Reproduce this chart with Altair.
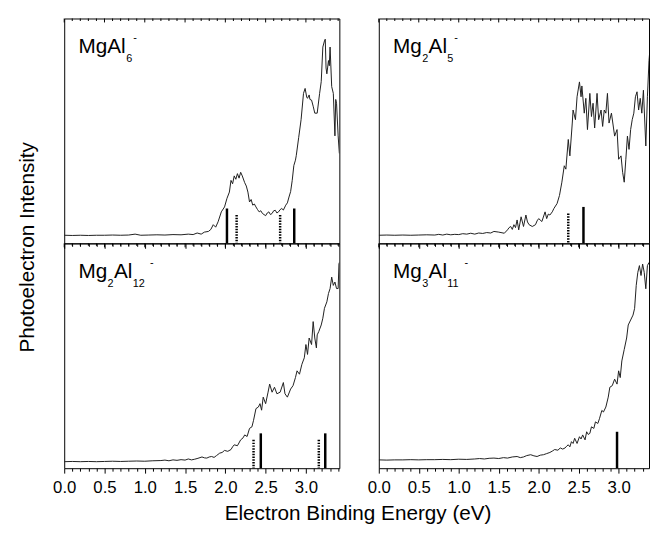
import altair as alt
import pandas as pd

FONT = "Liberation Sans"

# ---------------- data ----------------
# MgAl6-
TL_E = [0.00, 0.10, 0.20, 0.30, 0.40, 0.50, 0.60, 0.70, 0.80, 0.88, 0.95, 1.05, 1.15, 1.25, 1.35, 1.45,
        1.54, 1.60, 1.65, 1.70, 1.74, 1.79, 1.82, 1.85, 1.88, 1.91, 1.95, 1.99, 2.02, 2.05, 2.07, 2.09,
        2.11, 2.13, 2.15, 2.17, 2.19, 2.21, 2.24, 2.26, 2.28, 2.30, 2.32, 2.34, 2.36, 2.38, 2.40, 2.42,
        2.44, 2.46, 2.48, 2.50, 2.52, 2.54, 2.56, 2.58, 2.60, 2.62, 2.64, 2.66, 2.68, 2.70, 2.72, 2.75,
        2.77, 2.79, 2.81, 2.83, 2.85, 2.87, 2.88, 2.91, 2.94, 2.97, 2.99, 3.01, 3.02, 3.04, 3.05, 3.07,
        3.09, 3.11, 3.14, 3.17, 3.19, 3.21, 3.23, 3.24, 3.25, 3.26, 3.28, 3.29, 3.30, 3.32, 3.34, 3.36,
        3.37, 3.38, 3.40, 3.415]
TL_V = [0.036, 0.035, 0.036, 0.035, 0.036, 0.036, 0.037, 0.036, 0.037, 0.041, 0.036, 0.037, 0.038, 0.037, 0.039, 0.038,
        0.041, 0.039, 0.046, 0.041, 0.050, 0.053, 0.062, 0.083, 0.072, 0.096, 0.140, 0.162, 0.200, 0.228, 0.280, 0.265,
        0.300, 0.285, 0.310, 0.290, 0.316, 0.300, 0.270, 0.255, 0.228, 0.184, 0.195, 0.170, 0.175, 0.162, 0.150, 0.140,
        0.145, 0.133, 0.128, 0.123, 0.135, 0.140, 0.128, 0.133, 0.145, 0.147, 0.135, 0.140, 0.150, 0.155, 0.148, 0.170,
        0.180, 0.206, 0.230, 0.280, 0.346, 0.370, 0.390, 0.470, 0.550, 0.667, 0.689, 0.650, 0.645, 0.660, 0.640, 0.637,
        0.610, 0.579, 0.579, 0.667, 0.719, 0.873, 0.900, 0.908, 0.780, 0.754, 0.813, 0.790, 0.873, 0.697, 0.667, 0.478,
        0.640, 0.623, 0.478, 0.400]

# Mg2Al5-
TR_E = [0.00, 0.10, 0.20, 0.30, 0.40, 0.50, 0.60, 0.70, 0.75, 0.80, 0.85, 0.90, 0.95, 1.00, 1.05, 1.10,
        1.15, 1.20, 1.25, 1.30, 1.35, 1.40, 1.44, 1.50, 1.57, 1.61, 1.63, 1.65, 1.67, 1.69, 1.71, 1.73,
        1.75, 1.78, 1.81, 1.84, 1.86, 1.88, 1.92, 1.96, 1.98, 2.00, 2.04, 2.08, 2.10, 2.12, 2.14, 2.17,
        2.19, 2.23, 2.26, 2.29, 2.32, 2.34, 2.37, 2.39, 2.42, 2.43, 2.46, 2.48, 2.51, 2.53, 2.54, 2.57,
        2.59, 2.61, 2.64, 2.66, 2.68, 2.70, 2.73, 2.75, 2.78, 2.80, 2.82, 2.84, 2.86, 2.88, 2.91, 2.95,
        2.98, 3.00, 3.03, 3.05, 3.07, 3.09, 3.11, 3.13, 3.15, 3.17, 3.19, 3.21, 3.23, 3.25, 3.27, 3.29,
        3.31, 3.34, 3.36, 3.38, 3.40]
TR_V = [0.036, 0.037, 0.036, 0.037, 0.036, 0.037, 0.038, 0.037, 0.040, 0.037, 0.041, 0.038, 0.040, 0.039, 0.043, 0.041,
        0.045, 0.041, 0.046, 0.044, 0.048, 0.046, 0.053, 0.050, 0.045, 0.060, 0.070, 0.075, 0.062, 0.083, 0.070, 0.104,
        0.060, 0.118, 0.075, 0.126, 0.095, 0.083, 0.075, 0.083, 0.100, 0.110, 0.097, 0.140, 0.110, 0.130, 0.126, 0.140,
        0.155, 0.177, 0.213, 0.272, 0.345, 0.330, 0.462, 0.389, 0.535, 0.593, 0.550, 0.652, 0.718, 0.652, 0.700, 0.579,
        0.645, 0.506, 0.667, 0.564, 0.623, 0.513, 0.667, 0.550, 0.593, 0.520, 0.593, 0.579, 0.667, 0.535, 0.579, 0.477,
        0.506, 0.374, 0.389, 0.316, 0.272, 0.374, 0.477, 0.418, 0.506, 0.550, 0.579, 0.652, 0.674, 0.593, 0.645, 0.579,
        0.681, 0.433, 0.652, 0.813, 0.900]

# Mg2Al12-
BL_E = [0.00, 0.10, 0.20, 0.30, 0.40, 0.50, 0.60, 0.70, 0.80, 0.90, 1.00, 1.10, 1.20, 1.25, 1.30, 1.35,
        1.40, 1.45, 1.50, 1.54, 1.58, 1.62, 1.66, 1.71, 1.74, 1.77, 1.80, 1.83, 1.86, 1.89, 1.93, 1.96,
        1.99, 2.03, 2.07, 2.09, 2.11, 2.15, 2.19, 2.22, 2.24, 2.27, 2.30, 2.33, 2.35, 2.38, 2.41, 2.43,
        2.45, 2.47, 2.50, 2.53, 2.55, 2.58, 2.61, 2.64, 2.68, 2.72, 2.74, 2.77, 2.81, 2.84, 2.87, 2.89,
        2.92, 2.95, 2.98, 3.00, 3.02, 3.04, 3.07, 3.09, 3.11, 3.13, 3.14, 3.16, 3.19, 3.21, 3.23, 3.26,
        3.28, 3.30, 3.32, 3.34, 3.36, 3.38, 3.40, 3.41, 3.415]
BL_V = [0.029, 0.030, 0.029, 0.030, 0.029, 0.030, 0.031, 0.030, 0.031, 0.032, 0.031, 0.033, 0.034, 0.036, 0.033, 0.037,
        0.035, 0.038, 0.036, 0.041, 0.037, 0.040, 0.044, 0.050, 0.046, 0.045, 0.050, 0.052, 0.048, 0.056, 0.067, 0.070,
        0.079, 0.075, 0.083, 0.095, 0.104, 0.100, 0.126, 0.135, 0.148, 0.141, 0.177, 0.184, 0.213, 0.265, 0.272, 0.287,
        0.258, 0.316, 0.287, 0.338, 0.374, 0.338, 0.360, 0.331, 0.338, 0.381, 0.331, 0.316, 0.352, 0.367, 0.403, 0.433,
        0.418, 0.462, 0.491, 0.550, 0.506, 0.579, 0.550, 0.652, 0.579, 0.535, 0.593, 0.608, 0.637, 0.667, 0.711, 0.740,
        0.777, 0.799, 0.850, 0.813, 0.828, 0.799, 0.799, 0.908, 0.915]

# Mg3Al11-
BR_E = [0.00, 0.10, 0.20, 0.30, 0.40, 0.50, 0.60, 0.70, 0.80, 0.90, 1.00, 1.10, 1.20, 1.26, 1.32, 1.38,
        1.44, 1.50, 1.56, 1.61, 1.67, 1.73, 1.77, 1.81, 1.85, 1.90, 1.94, 1.98, 2.02, 2.06, 2.10, 2.14,
        2.17, 2.20, 2.24, 2.27, 2.30, 2.33, 2.35, 2.37, 2.39, 2.41, 2.43, 2.45, 2.48, 2.51, 2.53, 2.55,
        2.58, 2.60, 2.62, 2.64, 2.66, 2.69, 2.71, 2.74, 2.76, 2.79, 2.81, 2.84, 2.87, 2.89, 2.92, 2.95,
        2.98, 3.00, 3.02, 3.04, 3.07, 3.10, 3.12, 3.15, 3.18, 3.20, 3.22, 3.24, 3.26, 3.28, 3.30, 3.32,
        3.34, 3.36, 3.38]
BR_V = [0.037, 0.036, 0.037, 0.037, 0.038, 0.037, 0.038, 0.038, 0.039, 0.038, 0.040, 0.039, 0.041, 0.043, 0.041, 0.044,
        0.045, 0.043, 0.047, 0.045, 0.050, 0.052, 0.047, 0.050, 0.056, 0.060, 0.055, 0.052, 0.058, 0.060, 0.065, 0.070,
        0.076, 0.083, 0.080, 0.090, 0.085, 0.090, 0.098, 0.104, 0.095, 0.118, 0.110, 0.133, 0.110, 0.140, 0.130, 0.148,
        0.126, 0.162, 0.150, 0.155, 0.184, 0.177, 0.206, 0.199, 0.220, 0.257, 0.250, 0.272, 0.316, 0.360, 0.367, 0.396,
        0.374, 0.433, 0.403, 0.477, 0.528, 0.579, 0.637, 0.659, 0.681, 0.711, 0.813, 0.871, 0.901, 0.857, 0.908, 0.871,
        0.798, 0.901, 0.915]

# calculated vertical detachment energies (solid) and adiabatic (dotted) sticks
TL_SOLID, TL_DOT = [2.02, 2.855], [2.14, 2.68]
TR_SOLID, TR_DOT = [2.56], [2.37]
BL_SOLID, BL_DOT = [2.44, 3.24], [2.35, 3.16]
BR_SOLID, BR_DOT = [2.98], []
SOLID_H = [0.155, 0.162, 0.155, 0.162]
DOT_H = [0.126, 0.133, 0.126, 0.133]

TICKS = [round(i * 0.1, 1) for i in range(35)]
LEFT_MAX, RIGHT_MAX = 3.415, 3.38
LEFT_W, RIGHT_W, PANEL_H = 279, 274, 228

Y_TITLE = "Photoelectron Intensity"
X_TITLE = "Electron Binding Energy (eV)"

# label parts: (text, x offset, baseline offset, font size)
LABELS = {
    "TL": [("MgAl", 14.5, 34.7, 21), ("6", 63.0, 44, 11), ("-", 70.0, 23, 11)],
    "TR": [("Mg", 14.5, 34.7, 21), ("2", 44.0, 44, 11), ("Al", 50.5, 34.7, 21), ("5", 69.5, 44, 11), ("-", 76.5, 23, 11)],
    "BL": [("Mg", 14.5, 34.7, 21), ("2", 44.0, 44, 11), ("Al", 50.5, 34.7, 21), ("12", 69.5, 44, 11), ("-", 87.0, 23, 11)],
    "BR": [("Mg", 14.5, 34.7, 21), ("3", 44.0, 44, 11), ("Al", 50.5, 34.7, 21), ("11", 69.5, 44, 11), ("-", 87.0, 23, 11)],
}


def panel(E, V, solid, dotted, h_solid, h_dot, xmax, width, parts, bottom, titles=False):
    ticks = [t for t in TICKS if t <= xmax + 1e-9]
    majors = [t for t in ticks if round(t * 10) % 5 == 0]
    minors = [t for t in ticks if round(t * 10) % 5 != 0]
    xs = alt.Scale(domain=[0, xmax], nice=False, zero=False)
    ys = alt.Scale(domain=[0, 1], nice=False, zero=False)
    tsize = {"condition": {"test": "round(datum.value*10) % 5 === 0", "value": 5}, "value": 3}
    common = dict(values=ticks, title=None, domain=False, grid=False, ticks=True,
                  tickColor="black", tickWidth=1, tickSize=tsize)
    if bottom:
        axis = alt.Axis(labelExpr="round(datum.value*10) % 5 === 0 ? format(datum.value, '.1f') : ''",
                        labelFont=FONT, labelFontSize=17, labelColor="black", labelPadding=7,
                        labelFlush=False, labelOverlap=False, **common)
    else:
        axis = alt.Axis(labels=False, **common)

    df = pd.DataFrame({"E": E, "I": V})
    line = alt.Chart(df).mark_line(color="#1e1e1e", strokeWidth=1, clip=True).encode(
        x=alt.X("E:Q", scale=xs, axis=axis),
        y=alt.Y("I:Q", scale=ys, axis=None),
    )
    layers = [line]
    if solid:
        sdf = pd.DataFrame({"E": solid, "h": [h_solid] * len(solid)})
        layers.append(alt.Chart(sdf).mark_rule(color="black", strokeWidth=2.5).encode(
            x=alt.X("E:Q", scale=xs, axis=axis), y=alt.Y("h:Q", scale=ys, axis=None), y2=alt.datum(0)))
    if dotted:
        ddf = pd.DataFrame({"E": dotted, "h": [h_dot] * len(dotted)})
        layers.append(alt.Chart(ddf).mark_rule(color="black", strokeWidth=2.5, strokeDash=[1.5, 1.3]).encode(
            x=alt.X("E:Q", scale=xs, axis=axis), y=alt.Y("h:Q", scale=ys, axis=None), y2=alt.datum(0)))
    # inward ticks along the top edge
    layers.append(alt.Chart(pd.DataFrame({"t": majors})).mark_rule(color="black", strokeWidth=1).encode(
        x=alt.X("t:Q", scale=xs, axis=axis), y=alt.value(0), y2=alt.value(4)))
    layers.append(alt.Chart(pd.DataFrame({"t": minors})).mark_rule(color="black", strokeWidth=1).encode(
        x=alt.X("t:Q", scale=xs, axis=axis), y=alt.value(0), y2=alt.value(2.5)))
    for text, rx, ry, size in parts:
        layers.append(alt.Chart(alt.Data(values=[{"t": text}])).mark_text(
            align="left", baseline="alphabetic", font=FONT, fontSize=size, color="black").encode(
            x=alt.value(rx), y=alt.value(ry), text="t:N"))
    if titles:
        # shared axis titles, placed relative to this (bottom-left) panel
        layers.append(alt.Chart(alt.Data(values=[{"t": Y_TITLE}])).mark_text(
            align="center", baseline="alphabetic", angle=270, font=FONT, fontSize=21, color="black").encode(
            x=alt.value(-31), y=alt.value(4), text="t:N"))
        layers.append(alt.Chart(alt.Data(values=[{"t": X_TITLE}])).mark_text(
            align="center", baseline="middle", font=FONT, fontSize=21, color="black").encode(
            x=alt.value(298), y=alt.value(275), text="t:N"))
    return alt.layer(*layers).properties(width=width, height=PANEL_H)


tl = panel(TL_E, TL_V, TL_SOLID, TL_DOT, SOLID_H[0], DOT_H[0], LEFT_MAX, LEFT_W, LABELS["TL"], False)
tr = panel(TR_E, TR_V, TR_SOLID, TR_DOT, SOLID_H[1], DOT_H[1], RIGHT_MAX, RIGHT_W, LABELS["TR"], False)
bl = panel(BL_E, BL_V, BL_SOLID, BL_DOT, SOLID_H[2], DOT_H[2], LEFT_MAX, LEFT_W, LABELS["BL"], True, titles=True)
br = panel(BR_E, BR_V, BR_SOLID, BR_DOT, SOLID_H[3], DOT_H[3], RIGHT_MAX, RIGHT_W, LABELS["BR"], True)

chart = alt.concat(tl, tr, bl, br, columns=2, spacing={"row": 0, "column": 40}, bounds="flush").properties(
    padding={"left": 8, "top": 6, "right": 0, "bottom": 0}
).configure_view(stroke="black", strokeWidth=1)

chart.save("out.html", embed_options={"renderer": "svg", "actions": False})
